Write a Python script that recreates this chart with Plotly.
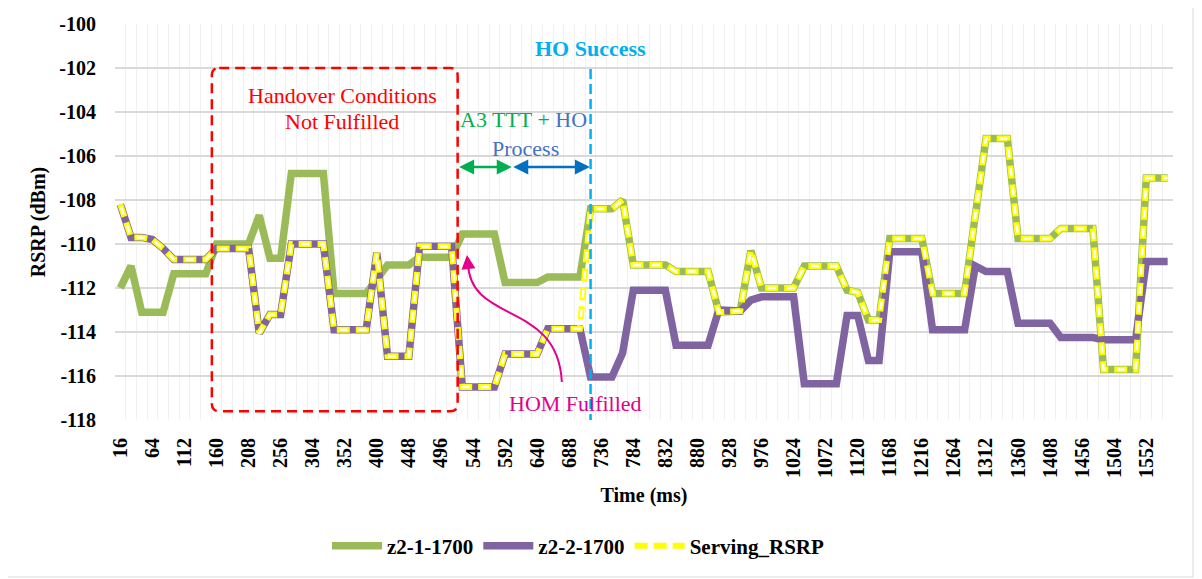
import plotly.graph_objects as go

# ---------------- data ----------------
time_ms = list(range(16, 1585, 16))  # 99 samples, 16 ms apart

z2_1_1700 = [
    -112.0, -111.0, -113.1, -113.1, -113.1, -111.35, -111.35, -111.35, -111.35, -110.0,
    -110.0, -110.0, -110.0, -108.7, -110.65, -110.65, -106.8, -106.8, -106.8, -106.8,
    -112.25, -112.25, -112.25, -112.25, -111.6, -110.95, -110.95, -110.95, -110.6, -110.6,
    -110.6, -110.6, -109.55, -109.55, -109.55, -109.55, -111.75, -111.75, -111.75, -111.75,
    -111.5, -111.5, -111.5, -111.5, -108.4, -108.4, -108.4, -108.0, -110.95, -110.95,
    -110.95, -110.95, -111.25, -111.25, -111.25, -111.25, -113.1, -113.05, -113.05, -110.3,
    -112.0, -112.0, -112.0, -112.0, -111.0, -111.0, -111.0, -111.0, -112.1, -112.2,
    -113.45, -113.45, -109.75, -109.75, -109.75, -109.75, -112.25, -112.25, -112.25, -112.25,
    -108.7, -105.2, -105.2, -105.2, -109.75, -109.75, -109.75, -109.75, -109.3, -109.3,
    -109.3, -109.3, -115.7, -115.7, -115.7, -115.7, -107.0, -107.0, -107.0,
]

z2_2_1700 = [
    -108.2, -109.7, -109.7, -109.8, -110.2, -110.7, -110.7, -110.7, -110.7, -110.2,
    -110.2, -110.2, -110.2, -114.05, -113.2, -113.2, -110.0, -110.0, -110.0, -110.0,
    -113.9, -113.9, -113.9, -113.9, -110.4, -115.1, -115.1, -115.1, -110.1, -110.1,
    -110.1, -110.1, -116.5, -116.5, -116.5, -116.5, -115.0, -115.0, -115.0, -115.0,
    -113.85, -113.85, -113.85, -113.85, -116.05, -116.05, -116.05, -114.95, -112.1, -112.1,
    -112.1, -112.1, -114.6, -114.6, -114.6, -114.6, -113.0, -113.05, -113.05, -112.55,
    -112.4, -112.4, -112.4, -112.4, -116.35, -116.35, -116.35, -116.35, -113.25, -113.25,
    -115.3, -115.3, -110.35, -110.35, -110.35, -110.35, -113.9, -113.9, -113.9, -113.9,
    -111.0, -111.25, -111.25, -111.25, -113.6, -113.6, -113.6, -113.6, -114.25, -114.25,
    -114.25, -114.25, -114.35, -114.35, -114.35, -114.35, -110.8, -110.8, -110.8,
]

serving_rsrp = [
    -108.2, -109.7, -109.7, -109.8, -110.2, -110.7, -110.7, -110.7, -110.7, -110.2,
    -110.2, -110.2, -110.2, -114.05, -113.2, -113.2, -110.0, -110.0, -110.0, -110.0,
    -113.9, -113.9, -113.9, -113.9, -110.4, -115.1, -115.1, -115.1, -110.1, -110.1,
    -110.1, -110.1, -116.5, -116.5, -116.5, -116.5, -115.0, -115.0, -115.0, -115.0,
    -113.85, -113.85, -113.85, -113.85, -108.4, -108.4, -108.4, -108.0, -110.95, -110.95,
    -110.95, -110.95, -111.25, -111.25, -111.25, -111.25, -113.1, -113.05, -113.05, -110.3,
    -112.0, -112.0, -112.0, -112.0, -111.0, -111.0, -111.0, -111.0, -112.1, -112.2,
    -113.45, -113.45, -109.75, -109.75, -109.75, -109.75, -112.25, -112.25, -112.25, -112.25,
    -108.7, -105.2, -105.2, -105.2, -109.75, -109.75, -109.75, -109.75, -109.3, -109.3,
    -109.3, -109.3, -115.7, -115.7, -115.7, -115.7, -107.0, -107.0, -107.0,
]

x_tick_labels = [str(t) for t in range(16, 1585, 48)]
y_ticks = [-118, -116, -114, -112, -110, -108, -106, -104, -102, -100]

HO_SUCCESS_MS = 720

# ---------------- styling ----------------
FONT = "Times New Roman, Liberation Serif, Tinos, serif"
GREEN = "#9BBB59"
PURPLE = "#8064A2"
YELLOW = "#FFFF00"

OFF = 8  # page body margin in the browser
W, H = 1202 - OFF, 579 - OFF
L, R, T, B = 115 - OFF, 1173 - OFF, 24 - OFF, 420 - OFF


def px2paper_x(px):
    return (px - OFF - L) / (R - L)


def px2paper_y(py):
    return (B - (py - OFF)) / (B - T)


fig = go.Figure()

fig.add_trace(go.Scatter(
    x=time_ms, y=z2_1_1700, mode="lines", name="z2-1-1700",
    line=dict(color=GREEN, width=7.5),
))
fig.add_trace(go.Scatter(
    x=time_ms, y=z2_2_1700, mode="lines", name="z2-2-1700",
    line=dict(color=PURPLE, width=7.5),
))
fig.add_trace(go.Scatter(
    x=time_ms, y=serving_rsrp, mode="lines", name="Serving_RSRP",
    line=dict(color=YELLOW, width=6, dash="13px,6px"),
))
fig.add_trace(go.Scatter(
    x=time_ms, y=serving_rsrp, mode="lines", name="Serving_RSRP_inner",
    showlegend=False, hoverinfo="skip",
    line=dict(color="#FFFFFF", width=2.5, dash="0px,2.5px,8px,8.5px"),
))

# ---------------- annotations / shapes ----------------
shapes = []
annotations = []

# red rounded dashed box: "Handover Conditions Not Fulfilled"
bx0, bx1, by0, by1 = 153, 521, -117.6, -102.0
rx, ry = 11, 0.35
path = (f"M {bx0+rx},{by1} L {bx1-rx},{by1} Q {bx1},{by1} {bx1},{by1-ry} "
        f"L {bx1},{by0+ry} Q {bx1},{by0} {bx1-rx},{by0} "
        f"L {bx0+rx},{by0} Q {bx0},{by0} {bx0},{by0+ry} "
        f"L {bx0},{by1-ry} Q {bx0},{by1} {bx0+rx},{by1} Z")
shapes.append(dict(type="path", xref="x", yref="y", path=path,
                   line=dict(color="#FF0000", width=2.5, dash="10px,6px")))

# HO success vertical dashed line
shapes.append(dict(type="line", xref="x", yref="y", x0=HO_SUCCESS_MS, x1=HO_SUCCESS_MS,
                   y0=-102.05, y1=-118,
                   line=dict(color="#00B0F0", width=2.5, dash="10px,5px")))

# magenta curved arrow (HOM fulfilled)
shapes.append(dict(type="path", xref="x", yref="y",
                   path="M 677,-116.27 C 671,-112.55 539,-113.68 536.4,-110.85",
                   line=dict(color="#E3008C", width=2)))

# chart outer border
shapes.append(dict(type="rect", xref="paper", yref="paper",
                   x0=px2paper_x(5), x1=px2paper_x(1193),
                   y0=px2paper_y(577), y1=px2paper_y(3),
                   line=dict(color="#D9D9D9", width=1), layer="below"))

annotations += [
    dict(x=348, y=-103.23, xref="x", yref="y", text="Handover Conditions", showarrow=False,
         font=dict(family=FONT, size=22, color="#FF0000")),
    dict(x=348, y=-104.45, xref="x", yref="y", text="Not Fulfilled", showarrow=False,
         font=dict(family=FONT, size=22, color="#FF0000")),
    dict(x=619, y=-104.36, xref="x", yref="y",
         text="<span style='color:#00B050'>A3 TTT + </span><span style='color:#4472C4'>HO</span>",
         showarrow=False, font=dict(family=FONT, size=22)),
    dict(x=622, y=-105.64, xref="x", yref="y", text="Process", showarrow=False,
         font=dict(family=FONT, size=22, color="#4472C4")),
    dict(x=HO_SUCCESS_MS, y=-101.1, xref="x", yref="y", text="<b>HO Success</b>", showarrow=False,
         font=dict(family=FONT, size=22, color="#00B0F0")),
    dict(x=698, y=-117.23, xref="x", yref="y", text="HOM Fulfilled", showarrow=False,
         font=dict(family=FONT, size=22, color="#E3008C")),
    # green double arrow (A3 TTT)
    dict(x=602, y=-106.5, ax=521, ay=-106.5, xref="x", yref="y", axref="x", ayref="y",
         text="", showarrow=True, arrowhead=2, startarrowhead=2, arrowside="end+start",
         arrowsize=1.2, startarrowsize=1.2, arrowwidth=2.5, arrowcolor="#00B050"),
    # blue double arrow (HO process)
    dict(x=719, y=-106.5, ax=602, ay=-106.5, xref="x", yref="y", axref="x", ayref="y",
         text="", showarrow=True, arrowhead=2, startarrowhead=2, arrowside="end+start",
         arrowsize=1.2, startarrowsize=1.2, arrowwidth=2.5, arrowcolor="#0070C0"),
    # magenta arrow head
    dict(x=535, y=-110.5, ax=536.4, ay=-110.9, xref="x", yref="y", axref="x", ayref="y",
         text="", showarrow=True, arrowhead=2, arrowsize=1.4, arrowwidth=2,
         arrowcolor="#E3008C"),
]

fig.update_layout(
    width=W, height=H,
    margin=dict(l=L, r=W - R, t=T, b=H - B, autoexpand=False),
    paper_bgcolor="white", plot_bgcolor="white",
    font=dict(family=FONT, color="#000000"),
    shapes=shapes, annotations=annotations,
    showlegend=True,
    legend=dict(orientation="h", x=px2paper_x(578), xanchor="center",
                y=px2paper_y(546), yanchor="middle",
                font=dict(family=FONT, size=21, color="#000000", weight="bold"),
                itemwidth=50, bgcolor="rgba(0,0,0,0)"),
)

fig.update_xaxes(
    range=[8, 1592], tickmode="array", tickvals=[int(v) for v in x_tick_labels],
    ticktext=x_tick_labels, tickangle=-90,
    tickfont=dict(family=FONT, size=20, color="#000000", weight="bold"),
    ticks="outside", ticklen=9, tickcolor="rgba(0,0,0,0)",
    showgrid=False, zeroline=False, showline=False,
    minor=dict(tick0=8, dtick=16, showgrid=True, gridcolor="#F0F0F0", gridwidth=1),
    title=dict(text="Time (ms)", standoff=10,
               font=dict(family=FONT, size=20, color="#000000", weight="bold")),
    automargin=False,
)
fig.update_yaxes(
    range=[-118, -100], tickmode="array", tickvals=y_ticks,
    ticktext=[str(v) for v in y_ticks],
    tickfont=dict(family=FONT, size=20, color="#000000", weight="bold"),
    ticks="outside", ticklen=14, tickcolor="rgba(0,0,0,0)",
    showgrid=True, gridcolor="#D9D9D9", gridwidth=1.5, zeroline=False, showline=False,
    title=dict(text="RSRP (dBm)", standoff=8,
               font=dict(family=FONT, size=20, color="#000000", weight="bold")),
    automargin=False,
)

fig.write_html("out.html")
